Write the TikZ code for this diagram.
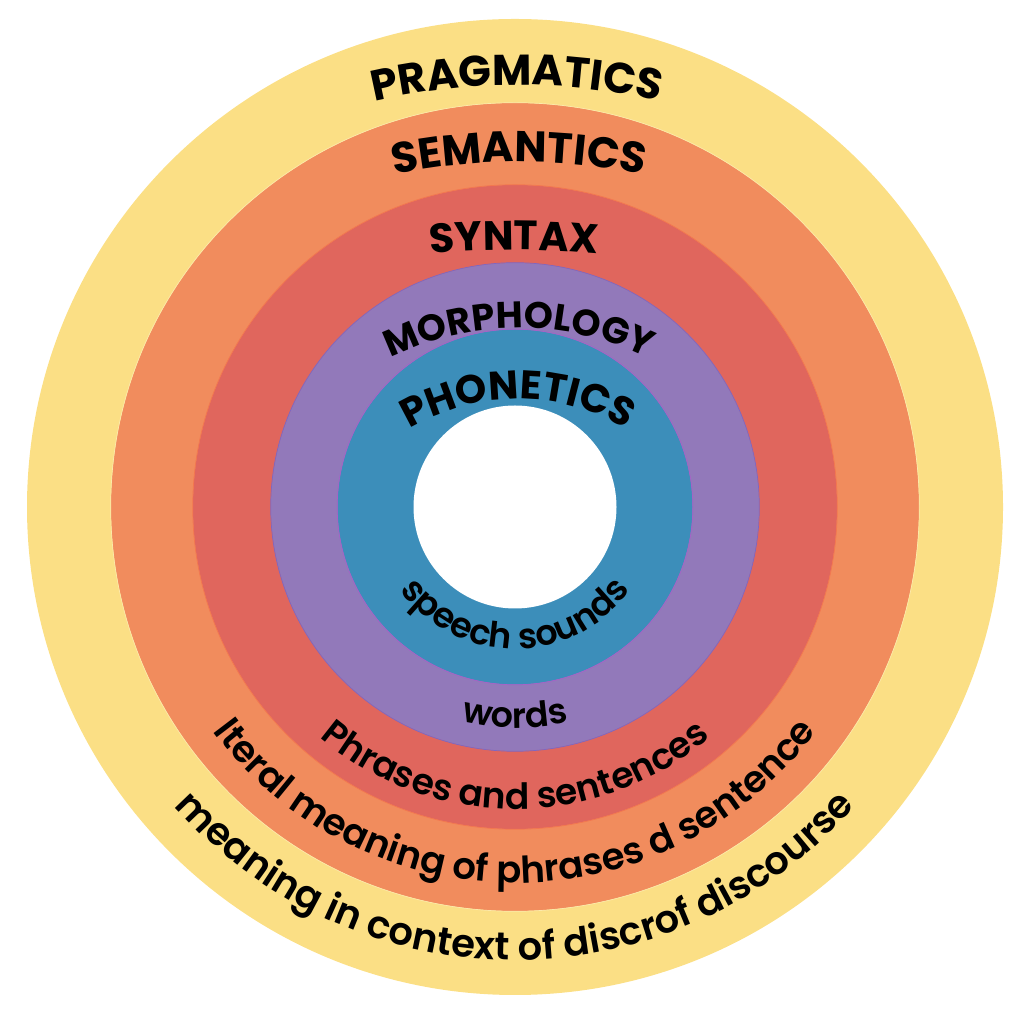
\documentclass[tikz,border=0pt]{standalone}
\usepackage{fontspec}
\setmainfont{Poppins}
\newfontfamily\popsb{Poppins SemiBold}
\usetikzlibrary{decorations.text,calc}
\definecolor{cyel}{HTML}{FBDF85}
\definecolor{cora}{HTML}{F18C5D}
\definecolor{cred}{HTML}{E0665D}
\definecolor{cpur}{HTML}{9279BA}
\definecolor{ctea}{HTML}{3C8EBA}
\newcommand{\capf}[1]{\bfseries\fontsize{#1}{#1}\selectfont}
\newcommand{\lowf}[1]{\popsb\fontsize{#1}{#1}\selectfont}
\tikzset{
  arclabel/.style={decorate, decoration={text along path, text align=center, text={#1}}},
  seam/.style={line width=0.7pt}
}
\begin{document}
\begin{tikzpicture}[x=1pt,y=1pt]
\useasboundingbox (0,0) rectangle (1024,1024);
\coordinate (c) at (515,517);
% rings
\fill[cyel] (c) circle (488);
\fill[cora] (c) circle (404);
\fill[cred] (c) circle (322);
\fill[cpur] (c) circle (244);
\fill[ctea] (c) circle (177.5);
\fill[white] (c) circle (101.5);
\draw[seam, color=cyel!70!white] (c) circle (404.3);
\draw[seam, color=cora!85!red] (c) circle (322.3);
\draw[seam, color=cpur!85!blue] (c) circle (244.3);
\draw[seam, color=cpur!80!magenta] (c) circle (177.8);
% top labels: arc centres
\coordinate (cP) at (517,319);
\coordinate (cS) at (519,262);
\coordinate (cY) at (514,-126);
\coordinate (cM) at (519,406);
\coordinate (cH) at (518,415);
\coordinate (pP) at ($(cP)+(110:620)$);
\coordinate (pS) at ($(cS)+(110:600)$);
\coordinate (pY) at ($(cY)+(100:900)$);
\coordinate (pM) at ($(cM)+(150:290)$);
\coordinate (pH) at ($(cH)+(160:210)$);
\path[arclabel={|\capf{43}|PRAGMATICS}] (pP) arc[start angle=110, end angle=70, radius=620];
\path[arclabel={|\capf{43}|SEMANTICS}] (pS) arc[start angle=110, end angle=70, radius=600];
\path[arclabel={|\capf{41}|SYNTAX}] (pY) arc[start angle=100, end angle=80, radius=900];
\path[arclabel={|\capf{37}|MORPHOLOGY}] (pM) arc[start angle=150, end angle=30, radius=290];
\path[arclabel={|\capf{40}|PHONETICS}] (pH) arc[start angle=160, end angle=20, radius=210];
% bottom labels
\coordinate (b1) at ($(c)+(200:142)$);
\coordinate (b2) at ($(c)+(200:221)$);
\coordinate (b3) at ($(c)+(200:302)$);
\coordinate (b4) at ($(c)+(200:376)$);
\coordinate (b5) at ($(c)+(200:453)$);
\path[arclabel={|\lowf{35}|speech sounds}] (b1) arc[start angle=200, end angle=340, radius=142];
\path[arclabel={|\lowf{35}|words}] (b2) arc[start angle=200, end angle=340, radius=221];
\path[arclabel={|\lowf{36}|Phrases and sentences}] (b3) arc[start angle=200, end angle=340, radius=302];
\path[arclabel={|\lowf{37}|lteral meaning of phrases d sentence}] (b4) arc[start angle=200, end angle=340, radius=376];
\path[arclabel={|\lowf{38.5}|meaning in context of discrof discourse}] (b5) arc[start angle=200, end angle=340, radius=453];
\end{tikzpicture}
\end{document}
